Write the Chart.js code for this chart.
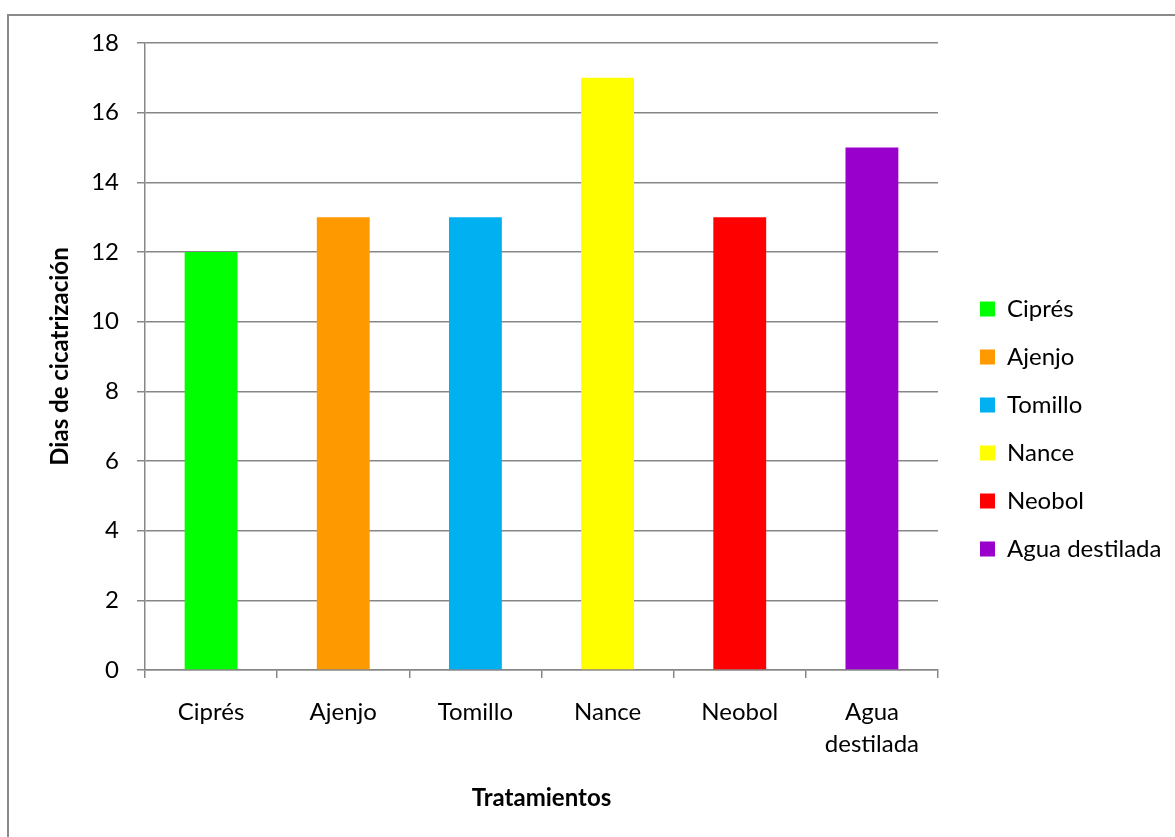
<!DOCTYPE html>
<html>
<head>
<meta charset="utf-8">
<script src="https://cdn.jsdelivr.net/npm/chart.js@4"></script>
<style>
  html, body { margin: 0; padding: 0; background: #fff; overflow: hidden; }
  #frame { position: absolute; left: 7px; top: 14px; width: 1200px; height: 900px; border: 2px solid #8a8a8a; box-sizing: border-box; }
  #wrap { position: absolute; left: 0; top: 0; width: 1175px; height: 837px; }
</style>
</head>
<body>
<div id="frame"></div>
<div id="wrap"><canvas id="c" width="1175" height="837"></canvas></div>
<script>
const categories = ["Ciprés", "Ajenjo", "Tomillo", "Nance", "Neobol", "Agua destilada"];
const tickLabels = ["Ciprés", "Ajenjo", "Tomillo", "Nance", "Neobol", ["Agua", "destilada"]];
const values = [12, 13, 13, 17, 13, 15];
const colors = ["#00FF00", "#FF9900", "#00B0F0", "#FFFF00", "#FF0000", "#9900CC"];
const yTicks = [0, 2, 4, 6, 8, 10, 12, 14, 16, 18];
const yTitle = "Dias de cicatrización";
const xTitle = "Tratamientos";

const gridColor = "#878787";
const FONT = "Lato";

const legendPlacer = {
  id: "legendPlacer",
  beforeLayout(chart) {
    const lg = chart.legend;
    if (lg && !lg._patched) {
      const f = lg.fit;
      lg.fit = function () { f.call(this); this.width = 237; };
      lg._patched = true;
    }
  },
  afterLayout(chart) {
    const lg = chart.legend;
    if (!lg) return;
    lg.left = 956; lg.right = 1175; lg.width = lg.right - lg.left;
    lg.top = 21; lg.bottom = 837; lg.height = lg.bottom - lg.top;
  }
};

new Chart(document.getElementById("c"), {
  type: "bar",
  data: {
    labels: categories,
    datasets: [{
      data: values,
      backgroundColor: colors,
      borderWidth: 0,
      barPercentage: 0.4,
      categoryPercentage: 1.0
    }]
  },
  options: {
    responsive: false,
    devicePixelRatio: 1,
    animation: false,
    layout: { padding: { top: 43, left: 0, right: 0, bottom: 0 } },
    plugins: {
      tooltip: { enabled: false },
      legend: {
        position: "right",
        labels: {
          font: { family: FONT, size: 24 },
          color: "#000",
          boxWidth: 15,
          boxHeight: 15,
          padding: 24,
          generateLabels() {
            return categories.map((c, i) => ({
              text: c, fillStyle: colors[i], strokeStyle: colors[i], lineWidth: 0, hidden: false, index: i
            }));
          }
        }
      }
    },
    scales: {
      y: {
        min: 0, max: 18,
        afterBuildTicks(scale) { scale.ticks = yTicks.map(v => ({ value: v })); },
        afterFit(scale) { scale.width = 145; },
        ticks: { font: { family: FONT, size: 24 }, color: "#000", padding: 18 },
        grid: { color: gridColor, lineWidth: 1.5, tickLength: 8 },
        border: { color: gridColor, width: 1.5 },
        title: { display: true, text: yTitle, font: { family: FONT, size: 24, weight: "bold" }, color: "#000", padding: { top: 46 } }
      },
      x: {
        afterFit(scale) { scale.height = 167; },
        ticks: {
          font: { family: FONT, size: 24, lineHeight: 1.33 },
          color: "#000", padding: 18, maxRotation: 0, autoSkip: false,
          callback(v, i) { return tickLabels[i]; }
        },
        grid: { drawOnChartArea: false, color: gridColor, lineWidth: 1.5, tickLength: 8 },
        border: { color: gridColor, width: 1.5 },
        title: { display: true, text: xTitle, font: { family: FONT, size: 24, weight: "bold" }, color: "#000", padding: { bottom: 24 } }
      }
    }
  },
  plugins: [legendPlacer]
});
</script>
</body>
</html>
